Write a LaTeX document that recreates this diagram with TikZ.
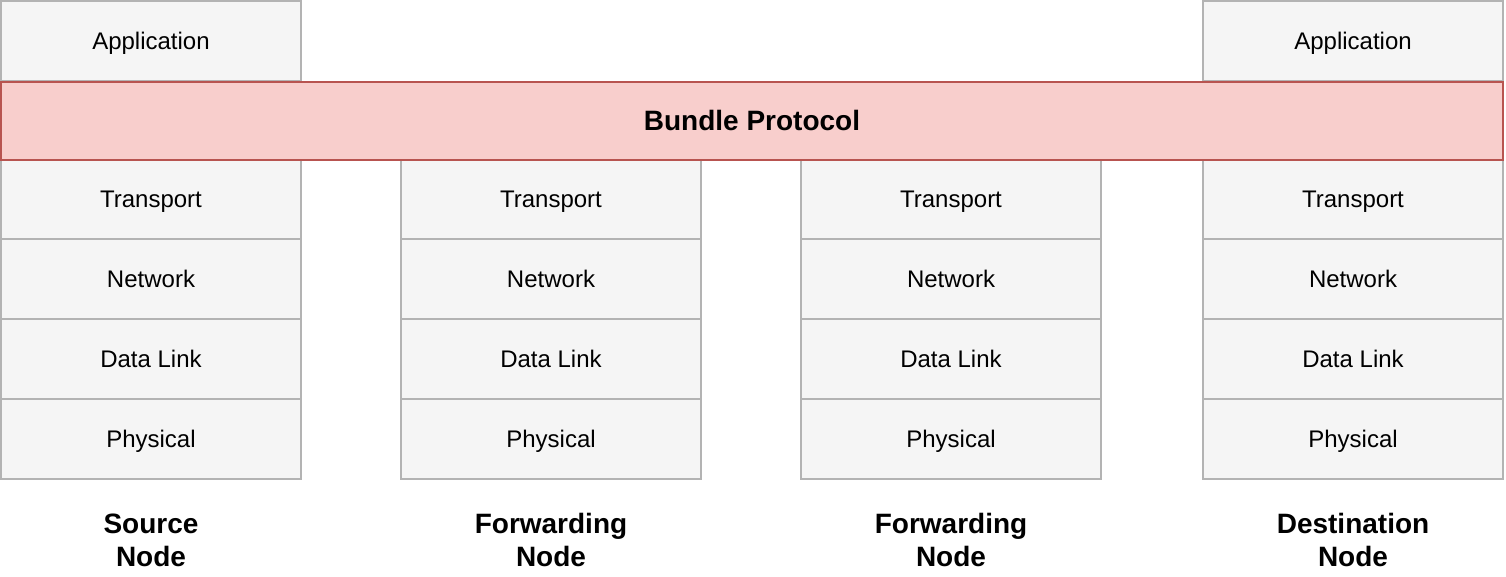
\documentclass[tikz,border=0pt]{standalone}
\usepackage{fontspec}
\setmainfont{Liberation Sans}
\definecolor{layerfill}{HTML}{F5F5F5}
\definecolor{layerline}{HTML}{B3B3B3}
\definecolor{bpfill}{HTML}{F8CECC}
\definecolor{bpline}{HTML}{B85450}
\tikzset{
  layer/.style={draw=layerline, fill=layerfill, line width=2pt, minimum width=300pt, minimum height=79.5pt,
    inner sep=0pt, text height=17.2pt, text depth=0pt, font=\fontsize{24}{28.8}\selectfont, text=black},
  bundlebox/.style={draw=bpline, fill=bpfill, line width=2pt, minimum width=1502pt, minimum height=78pt,
    inner sep=0pt, text height=20pt, text depth=0pt, font=\fontsize{28}{33}\selectfont\bfseries},
  nodelabel/.style={align=center, anchor=base, inner sep=0pt, font=\fontsize{28}{33}\selectfont\bfseries}
}
\begin{document}
\begin{tikzpicture}[x=1pt, y=-1pt]
\useasboundingbox (0,0) rectangle (1506,577);
% columns
\foreach \c/\x in {s/151, fa/551, fb/951, d/1353} {
  \node[layer] (\c tr) at (\x,199) {Transport};
  \node[layer] (\c nw) at (\x,279) {Network};
  \node[layer] (\c dl) at (\x,359) {Data Link};
  \node[layer] (\c ph) at (\x,439) {Physical};
}
\node[layer] (sapp) at (151,41) {Application};
\node[layer] (dapp) at (1353,41) {Application};
\node[bundlebox] (bp) at (752,121) {Bundle Protocol};
\node[nodelabel] (lsrc) at (151,566) {Source\\Node};
\node[nodelabel] (lfa) at (551,566) {Forwarding\\Node};
\node[nodelabel] (lfb) at (951,566) {Forwarding\\Node};
\node[nodelabel] (ldst) at (1353,566) {Destination\\Node};
\end{tikzpicture}
\end{document}
